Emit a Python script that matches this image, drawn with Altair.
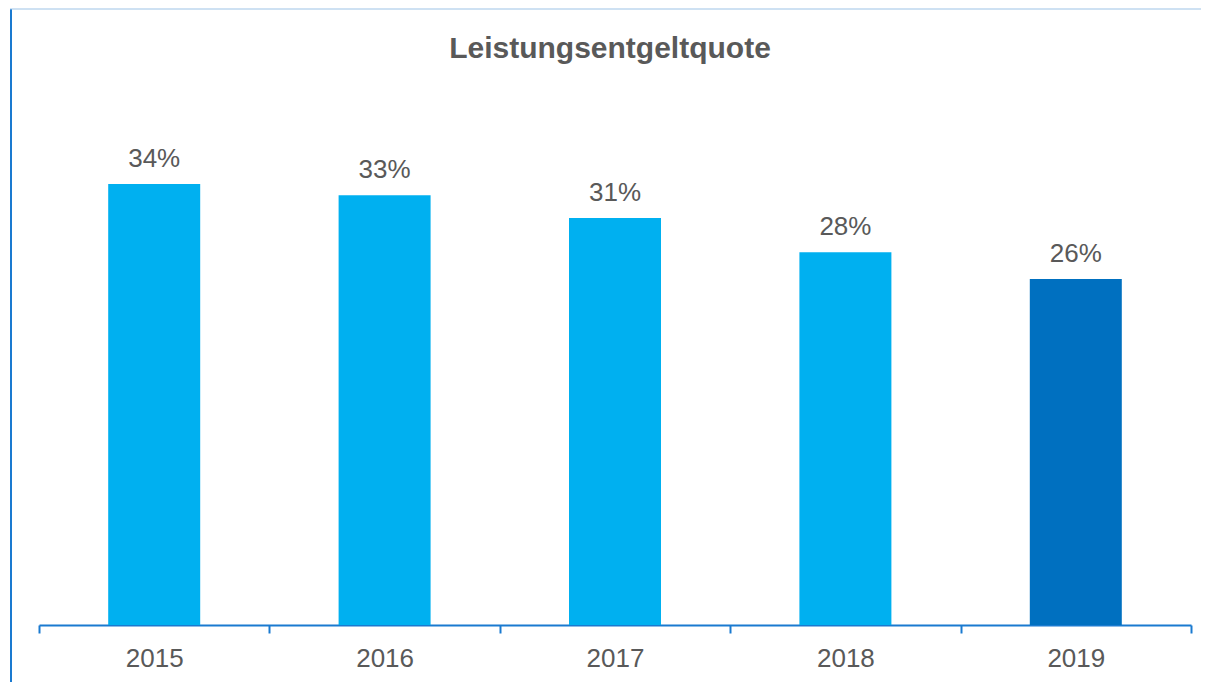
import altair as alt
import pandas as pd

years = ["2015", "2016", "2017", "2018", "2019"]
quote = [0.3365, 0.328, 0.3105, 0.2845, 0.264]
highlight = ["no", "no", "no", "no", "yes"]

df = pd.DataFrame({"Jahr": years, "Quote": quote, "hl": highlight})

FONT = "Arial, Liberation Sans, sans-serif"
GRAY = "#595959"
AXIS_BLUE = "#1A7AD0"

base = alt.Chart(df)

x_enc = alt.X(
    "Jahr:N",
    title=None,
    sort=years,
    scale=alt.Scale(paddingInner=0, paddingOuter=0),
    axis=alt.Axis(
        tickBand="extent",
        domainColor=AXIS_BLUE,
        domainWidth=2,
        tickColor=AXIS_BLUE,
        tickWidth=2,
        tickSize=8,
        labelAngle=0,
        labelFont=FONT,
        labelFontSize=26,
        labelColor=GRAY,
        labelBaseline="alphabetic",
        labelPadding=33,
        grid=False,
    ),
)
y_enc = alt.Y("Quote:Q", scale=alt.Scale(domain=[0, 0.393]), axis=None)

bars = base.mark_bar(size=92).encode(
    x=x_enc,
    y=y_enc,
    color=alt.Color(
        "hl:N",
        scale=alt.Scale(domain=["no", "yes"], range=["#00B0F0", "#0070C0"]),
        legend=None,
    ),
)

labels = base.mark_text(
    baseline="alphabetic", dy=-17, font=FONT, fontSize=26, color=GRAY
).encode(
    x=alt.X("Jahr:N", sort=years),
    y=y_enc,
    text=alt.Text("Quote:Q", format=".0%"),
)

frame = alt.Chart(pd.DataFrame({"a": [0]}))
left_border = frame.mark_rule(color=AXIS_BLUE, strokeWidth=2).encode(
    x=alt.value(-28), y=alt.value(-101), y2=alt.value(572)
)
top_border = frame.mark_rule(color="#9DC3E6", strokeWidth=1).encode(
    x=alt.value(-29), x2=alt.value(1170), y=alt.value(-101)
)

chart = (
    alt.layer(bars, labels, left_border, top_border)
    .properties(
        width=1152,
        height=515,
        padding={"left": 31, "top": 102, "right": 10, "bottom": 57},
        autosize=alt.AutoSizeParams(type="none"),
        title=alt.TitleParams(
            "Leistungsentgeltquote",
            font=FONT,
            fontSize=30,
            fontWeight="bold",
            color=GRAY,
            anchor="middle",
            baseline="alphabetic",
            offset=-80,
            dx=-5,
        ),
    )
    .configure_view(stroke=None)
)

chart.save("out.html", embed_options={"renderer": "svg", "actions": False})
